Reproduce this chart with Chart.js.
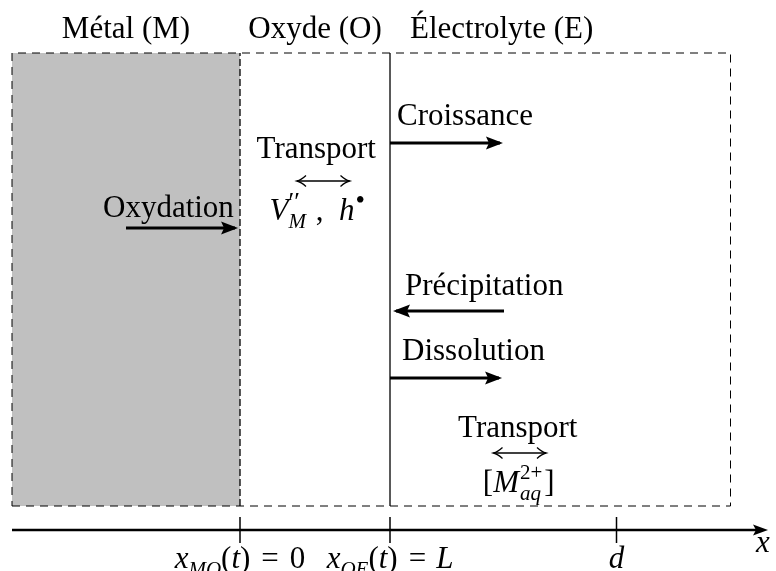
<!DOCTYPE html>
<html>
<head>
<meta charset="utf-8">
<script src="https://cdn.jsdelivr.net/npm/chart.js@4.4.0/dist/chart.umd.min.js"></script>
<style>
  html, body { margin: 0; padding: 0; background: #fff; }
  #wrap { width: 776px; height: 571px; position: relative; }
</style>
</head>
<body>
<div id="wrap"><canvas id="chart"></canvas></div>
<script>
// x in units of L (x_MO = 0, x_OE = L = 1), y = height above the x axis
const regionNames = ['Métal (M)', 'Oxyde (O)', 'Électrolyte (E)'];
const regionEdges = [-1.52, 0, 1, 3.27];
const boxBottom = 0.24;
const boxTop = 4.77;

const tickValues = [0, 1, 2.51];
const axisEnd = 3.52;

const processNames = ['Oxydation', 'Transport', 'Croissance', 'Précipitation', 'Dissolution', 'Transport'];
const processFrom = [-0.76, 0.38, 1.0, 1.76, 1.0, 1.69];
const processTo = [-0.033, 0.73, 1.733, 1.04, 1.727, 2.04];
const processLevel = [3.02, 3.49, 3.87, 2.19, 1.52, 0.77];
const processBoth = [false, true, false, false, false, true];

const SERIF = '"Liberation Serif", "Times New Roman", serif';
const BASE = 31;
const SUB = 21;

// math labels as runs of text
const speciesOxide = [
  { t: 'V', it: true },
  { t: '′′', size: 26, dy: -10, kern: 0 },
  { t: 'M', it: true, size: SUB, dy: 8, stack: true },
  { t: ' ,  ', kern: 2 },
  { t: 'h', it: true },
  { t: '•', size: 27, dy: -11, kern: 1 }
];
const speciesElectrolyte = [
  { t: '[' },
  { t: 'M', it: true },
  { t: '2+', size: SUB, dy: -13, kern: 1 },
  { t: 'aq', it: true, size: SUB, dy: 8, stack: true },
  { t: ']', kern: 2 }
];
const tickLabels = [
  [{ t: 'x', it: true }, { t: 'MO', it: true, size: SUB, dy: 8 }, { t: '(' }, { t: 't', it: true }, { t: ')' },
   { t: '=', kern: 11 }, { t: '0', kern: 11 }],
  [{ t: 'x', it: true }, { t: 'OE', it: true, size: SUB, dy: 8 }, { t: '(' }, { t: 't', it: true }, { t: ')' },
   { t: '=', kern: 11 }, { t: 'L', it: true, kern: 10 }],
  [{ t: 'd', it: true }]
];

// label offsets relative to each arrow (pixels)
const labelPlace = [
  { anchor: 'min', dx: -23, dy: -11, align: 'left' },
  { anchor: 'mid', dx: -7, dy: -23, align: 'center' },
  { anchor: 'min', dx: 7, dy: -18, align: 'left' },
  { anchor: 'min', dx: 9, dy: -16, align: 'left' },
  { anchor: 'min', dx: 12, dy: -18, align: 'left' },
  { anchor: 'mid', dx: -2, dy: -16, align: 'center' }
];

function font(size, it) {
  return (it ? 'italic ' : '') + size + 'px ' + SERIF;
}

function layoutRuns(ctx, runs) {
  let cursor = 0, start = 0, width = 0;
  const out = [];
  for (const r of runs) {
    ctx.font = font(r.size || BASE, r.it);
    const rw = ctx.measureText(r.t).width;
    if (r.stack) {
      out.push({ r, x: start });
      width = Math.max(width, rw);
      cursor = start + width;
    } else {
      start = cursor + (r.kern || 0);
      width = rw;
      out.push({ r, x: start });
      cursor = start + rw;
    }
  }
  return { out, total: cursor };
}

function drawRuns(ctx, runs, x, y, align) {
  const { out, total } = layoutRuns(ctx, runs);
  const x0 = align === 'center' ? x - total / 2 : (align === 'right' ? x - total : x);
  ctx.textAlign = 'left';
  ctx.textBaseline = 'alphabetic';
  ctx.fillStyle = '#000';
  out.forEach(p => {
    ctx.font = font(p.r.size || BASE, p.r.it);
    ctx.fillText(p.r.t, x0 + p.x, y + (p.r.dy || 0));
  });
}

function solidHead(ctx, x, y, dir, len, half) {
  ctx.beginPath();
  ctx.moveTo(x, y);
  ctx.lineTo(x - dir * len, y - half);
  ctx.lineTo(x - dir * (len - 3), y);
  ctx.lineTo(x - dir * len, y + half);
  ctx.closePath();
  ctx.fill();
}

function openHead(ctx, x, y, dir) {
  ctx.beginPath();
  ctx.moveTo(x - dir * 9, y - 5.5);
  ctx.quadraticCurveTo(x - dir * 4, y - 1, x, y);
  ctx.quadraticCurveTo(x - dir * 4, y + 1, x - dir * 9, y + 5.5);
  ctx.stroke();
}

const datasets = [];

// metal region (grey)
datasets.push({
  data: [{ x: regionEdges[0], y: boxTop }, { x: regionEdges[1], y: boxTop }],
  fill: { value: boxBottom },
  backgroundColor: '#c0c0c0',
  borderWidth: 0,
  order: 10
});

// dashed outline of the domain
datasets.push({
  data: [
    { x: regionEdges[0], y: boxBottom }, { x: regionEdges[3], y: boxBottom },
    { x: regionEdges[3], y: boxTop }, { x: regionEdges[0], y: boxTop },
    { x: regionEdges[0], y: boxBottom }
  ],
  borderColor: '#000',
  borderWidth: 1,
  borderDash: [8, 6],
  fill: false,
  order: 5
});

// interfaces M/O and O/E
[1, 2].forEach(i => {
  datasets.push({
    data: [{ x: regionEdges[i], y: boxBottom }, { x: regionEdges[i], y: boxTop }],
    borderColor: '#000',
    borderWidth: 1.3,
    borderDash: i === 1 ? [7, 3] : [],
    fill: false,
    order: 4
  });
});

// x axis
datasets.push({
  data: [{ x: regionEdges[0], y: 0 }, { x: axisEnd - 0.04, y: 0 }],
  borderColor: '#000',
  borderWidth: 2.5,
  fill: false,
  order: 3
});
tickValues.forEach(v => {
  datasets.push({
    data: [{ x: v, y: -0.13 }, { x: v, y: 0.13 }],
    borderColor: '#000',
    borderWidth: 1.5,
    fill: false,
    order: 3
  });
});

// process arrows (shafts)
processNames.forEach((n, i) => {
  datasets.push({
    label: n,
    data: [{ x: processFrom[i], y: processLevel[i] }, { x: processTo[i], y: processLevel[i] }],
    borderColor: '#000',
    borderWidth: processBoth[i] ? 1.3 : 3,
    borderCapStyle: 'butt',
    fill: false,
    order: 1
  });
});

const annotate = {
  id: 'annotate',
  afterDatasetsDraw(chart) {
    const ctx = chart.ctx;
    const xs = chart.scales.x, ys = chart.scales.y;
    ctx.save();
    ctx.fillStyle = '#000';
    ctx.strokeStyle = '#000';

    // region titles
    regionNames.forEach((name, i) => {
      const a = xs.getPixelForValue(regionEdges[i]);
      const b = xs.getPixelForValue(regionEdges[i + 1]);
      ctx.font = font(BASE, false);
      ctx.textBaseline = 'alphabetic';
      if (i < 2) {
        ctx.textAlign = 'center';
        ctx.fillText(name, (a + b) / 2, 38);
      } else {
        ctx.textAlign = 'left';
        ctx.fillText(name, a + 20, 38);
      }
    });

    // arrow heads and labels
    processNames.forEach((name, i) => {
      const x1 = xs.getPixelForValue(processFrom[i]);
      const x2 = xs.getPixelForValue(processTo[i]);
      const y = ys.getPixelForValue(processLevel[i]);
      const dir = x2 > x1 ? 1 : -1;
      if (processBoth[i]) {
        ctx.lineWidth = 1.3;
        openHead(ctx, x2, y, dir);
        openHead(ctx, x1, y, -dir);
      } else {
        solidHead(ctx, x2 + dir * 3, y, dir, 17, 6.5);
      }
      const p = labelPlace[i];
      const ax = p.anchor === 'mid' ? (x1 + x2) / 2 : Math.min(x1, x2);
      ctx.font = font(BASE, false);
      ctx.textAlign = p.align;
      ctx.textBaseline = 'alphabetic';
      ctx.fillText(name, ax + p.dx, y + p.dy);
      if (processBoth[i]) {
        const runs = i === 1 ? speciesOxide : speciesElectrolyte;
        drawRuns(ctx, runs, ax + (i === 1 ? -6 : -1), y + 39, 'center');
      }
    });

    // axis arrow head, tick labels, axis name
    const ay = ys.getPixelForValue(0);
    solidHead(ctx, xs.getPixelForValue(axisEnd), ay, 1, 15, 5.5);
    tickValues.forEach((v, i) => {
      drawRuns(ctx, tickLabels[i], xs.getPixelForValue(v), 568, 'center');
    });
    drawRuns(ctx, [{ t: 'x', it: true }], xs.getPixelForValue(axisEnd) - 12, 552, 'left');
    ctx.restore();
  }
};

new Chart(document.getElementById('chart'), {
  type: 'line',
  data: { datasets },
  options: {
    responsive: true,
    maintainAspectRatio: false,
    animation: false,
    events: [],
    layout: { padding: 0 },
    elements: { point: { radius: 0 }, line: { tension: 0 } },
    plugins: { legend: { display: false }, tooltip: { enabled: false } },
    scales: {
      x: { type: 'linear', min: -1.6, max: 3.5733, display: false },
      y: { type: 'linear', min: -0.41, max: 5.30, display: false }
    }
  },
  plugins: [annotate]
});
</script>
</body>
</html>
